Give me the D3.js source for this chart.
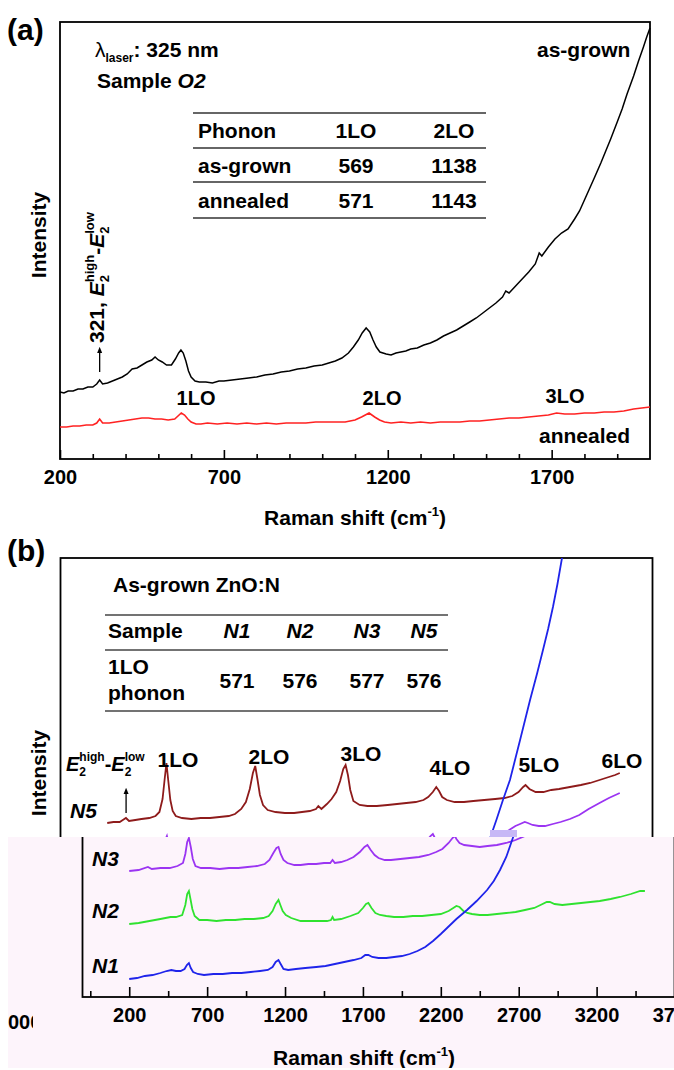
<!DOCTYPE html>
<html>
<head>
<meta charset="utf-8">
<script src="https://cdn.jsdelivr.net/npm/d3@7"></script>
<style>
  body { margin: 0; background: #fff; }
  svg { display: block; font-family: "Liberation Sans", Arial, Helvetica, sans-serif; font-weight: bold; }
</style>
</head>
<body>
<svg id="chart" width="674" height="1070"></svg>
<script>
// ---- panel (a): sample O2, 325 nm, [Raman shift cm-1, intensity a.u.]
const asGrown = [[200,67],[212,66],[225,68],[240,68],[255,70],[270,70],[285,72],[300,72],[312,75],[321,79],[330,75],[345,76],[360,78],[375,80],[390,82],[405,85],[420,90],[435,91],[450,94],[465,97],[480,99],[490,102],[500,99],[512,97],[525,94],[540,94],[552,100],[562,106],[569,109],[576,106],[584,98],[592,88],[600,82],[612,78],[625,77],[645,77],[665,76],[685,78],[700,78],[725,79],[750,80],[775,81],[800,82],[825,84],[850,85],[875,87],[900,88],[925,90],[950,91],[975,93],[1000,94],[1020,96],[1040,98],[1060,101],[1080,106],[1095,112],[1110,119],[1122,126],[1134,131],[1145,127],[1155,119],[1165,112],[1176,107],[1195,105],[1210,104],[1225,106],[1240,107],[1255,108],[1270,110],[1290,111],[1310,114],[1330,116],[1350,119],[1370,123],[1390,126],[1410,129],[1430,133],[1450,137],[1470,141],[1490,146],[1510,151],[1530,156],[1550,162],[1560,168],[1570,166],[1590,173],[1610,180],[1630,187],[1650,195],[1662,206],[1670,203],[1690,212],[1710,220],[1730,226],[1750,230],[1770,240],[1785,248],[1800,259],[1815,270],[1830,281],[1850,296],[1865,308],[1880,320],[1900,337],[1915,350],[1930,365],[1950,383],[1965,398],[1980,412],[1990,422],[2000,431]];
const annealed = [[200,32],[220,32],[240,33],[260,33],[280,34],[300,34],[312,36],[321,40],[330,36],[350,36],[370,37],[390,38],[410,39],[430,40],[450,41],[470,41],[490,40],[510,40],[530,39],[550,40],[560,43],[570,46],[580,44],[590,40],[600,37],[615,35],[630,35],[650,36],[680,35],[710,36],[740,35],[770,36],[800,35],[830,36],[860,35],[890,36],[920,36],[950,36],[980,37],[1010,37],[1040,37],[1070,37],[1100,39],[1120,42],[1143,46],[1160,42],[1175,39],[1190,37],[1210,36],[1240,37],[1270,36],[1300,37],[1330,36],[1360,37],[1390,37],[1420,37],[1450,38],[1480,38],[1510,39],[1540,40],[1570,41],[1600,41],[1630,42],[1660,43],[1690,44],[1715,46],[1740,45],[1770,45],[1800,46],[1830,46],[1860,47],[1890,47],[1920,48],[1950,50],[1975,51],[2000,52]];
const tableAHead = ['Phonon', '1LO', '2LO'];
const tableARows = [['as-grown', '569', '1138'], ['annealed', '571', '1143']];
const ticksAMajor = [200, 700, 1200, 1700];
const ticksAMinor = [300, 400, 500, 600, 800, 900, 1000, 1100, 1300, 1400, 1500, 1600, 1800, 1900];

// ---- panel (b): as-grown ZnO:N samples
const n5 = [[200,172],[240,173],[280,173],[300,175],[320,177],[340,174],[380,175],[420,176],[470,177],[510,179],[535,183],[555,196],[568,215],[580,232],[592,214],[605,195],[620,184],[640,179],[680,177],[740,176],[800,177],[860,177],[920,178],[980,179],[1020,181],[1060,186],[1090,193],[1115,206],[1135,222],[1150,229],[1165,215],[1180,200],[1200,190],[1230,185],[1280,183],[1340,182],[1400,182],[1450,183],[1500,184],[1540,186],[1555,189],[1575,186],[1610,191],[1640,196],[1670,203],[1695,214],[1715,226],[1730,230],[1745,220],[1760,205],[1780,194],[1820,190],[1870,189],[1930,189],[2000,190],[2060,191],[2120,192],[2180,193],[2230,195],[2260,198],[2290,203],[2312,208],[2330,204],[2350,198],[2380,195],[2430,193],[2490,193],[2550,194],[2620,195],[2690,196],[2750,197],[2800,199],[2840,203],[2870,208],[2885,210],[2910,206],[2950,203],[3000,203],[3050,205],[3100,206],[3170,208],[3240,210],[3300,212],[3360,215],[3420,218],[3460,220],[3490,222]];
const n3 = [[200,126],[260,127],[320,130],[345,128],[400,129],[460,129],[510,131],[545,134],[560,143],[572,155],[583,159],[595,150],[608,138],[625,131],[660,129],[720,129],[780,128],[840,129],[900,129],[960,130],[1020,131],[1070,133],[1100,137],[1125,144],[1145,149],[1158,150],[1172,143],[1190,137],[1215,134],[1260,132],[1300,132],[1350,133],[1400,133],[1450,134],[1490,134],[1505,137],[1520,134],[1560,135],[1600,137],[1640,140],[1680,145],[1710,150],[1729,152],[1750,147],[1775,142],[1800,139],[1840,137],[1880,137],[1940,138],[2000,139],[2060,140],[2120,142],[2170,145],[2210,148],[2250,154],[2275,159],[2290,161],[2300,158],[2320,154],[2350,152],[2400,151],[2450,150],[2500,151],[2560,152],[2620,154],[2680,157],[2740,161],[2790,166],[2820,169],[2850,171],[2880,173],[2900,172],[2930,170],[2970,169],[3010,169],[3060,171],[3110,173],[3170,176],[3230,180],[3290,186],[3360,192],[3420,197],[3490,202]];
const n2 = [[200,73],[260,74],[330,76],[400,78],[465,80],[500,80],[540,82],[560,92],[572,103],[583,106],[593,98],[605,88],[620,81],[650,77],[700,77],[760,76],[820,77],[880,77],[940,78],[1000,78],[1060,79],[1095,81],[1120,86],[1140,93],[1158,97],[1170,92],[1185,86],[1205,82],[1240,79],[1300,76],[1360,76],[1420,76],[1470,76],[1495,77],[1505,80],[1515,77],[1560,78],[1620,81],[1670,84],[1700,89],[1720,93],[1735,94],[1755,89],[1780,84],[1810,82],[1850,81],[1900,80],[1960,80],[2020,81],[2080,81],[2140,82],[2200,83],[2250,86],[2280,89],[2300,91],[2320,90],[2345,86],[2370,84],[2400,83],[2450,82],[2500,82],[2560,83],[2620,84],[2680,85],[2740,87],[2800,89],[2840,92],[2880,95],[2900,95],[2930,93],[2980,92],[3040,93],[3100,94],[3160,95],[3220,96],[3290,98],[3350,100],[3420,103],[3480,106],[3510,106]];
const n1 = [[200,18],[250,19],[300,21],[350,22],[400,24],[440,26],[470,27],[500,26],[530,26],[555,28],[570,32],[583,34],[595,29],[610,25],[640,23],[680,22],[740,23],[800,23],[860,24],[920,24],[980,25],[1040,26],[1090,27],[1120,30],[1140,35],[1158,37],[1172,33],[1190,28],[1220,27],[1270,28],[1330,29],[1400,30],[1460,31],[1520,33],[1580,35],[1640,37],[1690,39],[1715,42],[1735,42],[1760,40],[1800,39],[1850,39],[1900,40],[1950,41],[2000,43],[2050,46],[2100,50],[2150,56],[2200,63],[2240,69],[2300,78],[2368,87],[2430,96],[2497,107],[2540,116],[2580,127],[2620,140],[2660,158],[2700,176],[2740,195],[2785,215],[2850,255],[2914,295],[2960,322],[2997,345],[3030,366],[3061,388],[3090,411],[3119,437],[3130,447]];
const seriesB = [
  { name: 'N5', data: n5, color: '#8e1b1b' },
  { name: 'N3', data: n3, color: '#9b34f2' },
  { name: 'N2', data: n2, color: '#2fe22f' },
  { name: 'N1', data: n1, color: '#1f24ea' }
];
const tableBHead = ['Sample', 'N1', 'N2', 'N3', 'N5'];
const tableBValues = ['571', '576', '577', '576'];
const ticksBMajor = [200, 700, 1200, 1700, 2200, 2700, 3200, 3700];
const ticksBMinor = [-50, 450, 950, 1450, 1950, 2450, 2950, 3450];

const svg = d3.select('#chart');
const defs = svg.append('defs');
defs.append('marker').attr('id', 'arrow')
  .attr('viewBox', '0 0 10 10').attr('refX', 5).attr('refY', 5)
  .attr('markerWidth', 5).attr('markerHeight', 5).attr('orient', 'auto')
  .append('path').attr('d', 'M0,1L10,5L0,9Z').attr('fill', '#000');

function addTicks(g, scale, y, values, size, labels) {
  const axis = d3.axisBottom(scale).tickValues(values).tickSize(-size).tickPadding(11)
    .tickFormat(d => String(d));
  const a = g.append('g').attr('transform', `translate(0,${y})`).call(axis)
    .attr('font-family', null).attr('font-size', 20);
  a.select('.domain').remove();
  a.selectAll('line').attr('stroke', '#000').attr('stroke-width', 1.6);
  if (labels) a.selectAll('text').attr('fill', '#000');
  else a.selectAll('text').remove();
}

function frame(g, x, y) {
  g.append('rect')
    .attr('x', x.range()[0]).attr('y', y.range()[1])
    .attr('width', x.range()[1] - x.range()[0]).attr('height', y.range()[0] - y.range()[1])
    .attr('fill', 'none').attr('stroke', '#000').attr('stroke-width', 1.8);
}

function label(g, text, x, y, opts = {}) {
  return g.append('text').attr('x', x).attr('y', y)
    .attr('font-size', opts.size || 21)
    .attr('text-anchor', opts.anchor || 'start')
    .attr('font-style', opts.italic ? 'italic' : null)
    .text(text);
}

// E2(high) - E2(low) with stacked sub/superscripts
function e2Label(t, sub) {
  ['high', 'low'].forEach((sup, i) => {
    if (i) t.append('tspan').attr('dy', 10).text('-');
    t.append('tspan').attr('font-style', 'italic').text('E');
    t.append('tspan').attr('font-size', sub).attr('dy', 5).text('2');
    t.append('tspan').attr('font-size', sub).attr('dx', -sub * 0.556).attr('dy', -15).text(sup);
  });
}

function axisTitle(g, x, y) {
  const t = g.append('text').attr('x', x).attr('y', y).attr('font-size', 21).attr('text-anchor', 'middle');
  t.append('tspan').text('Raman shift (cm');
  t.append('tspan').attr('font-size', 13).attr('dy', -9).text('-1');
  t.append('tspan').attr('dy', 9).text(')');
}

// ================= panel (a)
const ax = d3.scaleLinear().domain([200, 2000]).range([60, 650]);
const ay = d3.scaleLinear().domain([0, 437]).range([459, 22]);
const lineA = d3.line().x(d => ax(d[0])).y(d => ay(d[1]));
const ga = svg.append('g');

addTicks(ga, ax, 459, ticksAMinor, 5, false);
addTicks(ga, ax, 459, ticksAMajor, 9, true);
frame(ga, ax, ay);

ga.append('path').datum(annealed).attr('d', lineA)
  .attr('fill', 'none').attr('stroke', '#ff2222').attr('stroke-width', 1.6);
ga.append('path').datum(asGrown).attr('d', lineA)
  .attr('fill', 'none').attr('stroke', '#000').attr('stroke-width', 1.5);

label(ga, '(a)', 7, 40, { size: 30 });
const lam = ga.append('text').attr('x', 95).attr('y', 57).attr('font-size', 21);
lam.append('tspan').attr('font-weight', 'normal').text('λ');
lam.append('tspan').attr('font-size', 12).attr('dy', 5).text('laser');
lam.append('tspan').attr('dy', -5).text(': 325 nm');
const smp = label(ga, 'Sample ', 97, 88);
smp.append('tspan').attr('font-style', 'italic').text('O2');

// table (a)
[113, 148, 182, 218].forEach(y => ga.append('line')
  .attr('x1', 193).attr('x2', 486).attr('y1', y).attr('y2', y)
  .attr('stroke', '#333').attr('stroke-width', 1.4));
const colA = [[198, 'start'], [356, 'middle'], [454, 'middle']];
[tableAHead, ...tableARows].forEach((row, r) => row.forEach((cell, c) =>
  label(ga, cell, colA[c][0], 138 + r * 35, { anchor: colA[c][1] })));

label(ga, 'as-grown', 537, 57);
label(ga, 'annealed', 539, 443);
label(ga, '1LO', 196, 405, { size: 20, anchor: 'middle' });
label(ga, '2LO', 382, 405, { size: 20, anchor: 'middle' });
label(ga, '3LO', 565, 403, { size: 20, anchor: 'middle' });

const ea = ga.append('text').attr('font-size', 21)
  .attr('transform', `translate(${ax(321) + 4},343) rotate(-90)`);
ea.append('tspan').text('321, ');
e2Label(ea, 13);
ga.append('line').attr('x1', ax(321)).attr('x2', ax(321)).attr('y1', 372).attr('y2', 350)
  .attr('stroke', '#000').attr('stroke-width', 1.3).attr('marker-end', 'url(#arrow)');

ga.append('text').attr('font-size', 21).attr('text-anchor', 'middle')
  .attr('transform', 'translate(46,235) rotate(-90)').text('Intensity');
axisTitle(ga, 355, 525);

// ================= panel (b)
const bx = d3.scaleLinear().domain([-100, 3700]).range([60.5, 652.5]);
const by = d3.scaleLinear().domain([0, 437]).range([995, 558]);
const lineB = d3.line().x(d => bx(d[0])).y(d => by(d[1]));

defs.append('clipPath').attr('id', 'plotB').append('rect')
  .attr('x', 60.5).attr('y', 558).attr('width', 592).attr('height', 437);
defs.append('clipPath').attr('id', 'upperB').append('rect')
  .attr('x', 0).attr('y', 500).attr('width', 674).attr('height', 337);
defs.append('clipPath').attr('id', 'lowerB').append('rect')
  .attr('x', 8).attr('y', 837).attr('width', 666).attr('height', 231);
defs.append('clipPath').attr('id', 'stray').append('rect')
  .attr('x', 8).attr('y', 1000).attr('width', 25).attr('height', 40);

// upper: the part of the panel above the seam; lower: the shifted copy below it
function drawPanelB(g, upper) {
  addTicks(g, bx, 995, ticksBMinor, 6, false);
  addTicks(g, bx, 995, ticksBMajor, 10, !upper);
  frame(g, bx, by);

  const curves = g.append('g').attr('clip-path', 'url(#plotB)');
  seriesB.forEach(s => curves.append('path').datum(s.data).attr('d', lineB)
    .attr('fill', 'none').attr('stroke', s.color).attr('stroke-width', 1.8));

  if (!upper) {
    [['N3', 864], ['N2', 916], ['N1', 971]]
      .forEach(([t, y]) => label(g, t, 70, y, { italic: true }));
    axisTitle(g, 342, 1063);
    return;
  }

  label(g, '(b)', 7, 561, { size: 30 });
  label(g, 'As-grown ZnO:N', 113, 592);
  [615, 650, 711].forEach(y => g.append('line')
    .attr('x1', 105).attr('x2', 448).attr('y1', y).attr('y2', y)
    .attr('stroke', '#444').attr('stroke-width', 1.4));
  const colB = [108, 237, 300, 367, 424];
  tableBHead.forEach((h, i) => label(g, h, colB[i], 638, { anchor: i ? 'middle' : 'start', italic: i > 0 }));
  label(g, '1LO', 108, 674);
  label(g, 'phonon', 108, 700);
  tableBValues.forEach((v, i) => label(g, v, colB[i + 1], 688, { anchor: 'middle' }));

  const eb = g.append('text').attr('x', 66).attr('y', 771).attr('font-size', 20);
  e2Label(eb, 12);
  g.append('line').attr('x1', bx(321)).attr('x2', bx(321)).attr('y1', 813).attr('y2', 791)
    .attr('stroke', '#000').attr('stroke-width', 1.3).attr('marker-end', 'url(#arrow)');

  [['1LO', 178, 767], ['2LO', 269, 764], ['3LO', 361, 761], ['4LO', 450, 775], ['5LO', 539, 772], ['6LO', 622, 768]]
    .forEach(([t, x, y]) => label(g, t, x, y, { anchor: 'middle' }));
  label(g, 'N5', 70, 818, { italic: true });

  g.append('text').attr('font-size', 21).attr('text-anchor', 'middle')
    .attr('transform', 'translate(46,773) rotate(-90)').text('Intensity');
}

drawPanelB(svg.append('g').attr('clip-path', 'url(#upperB)').append('g'), true);
const lower = svg.append('g').attr('clip-path', 'url(#lowerB)');
lower.append('rect').attr('x', 8).attr('y', 837).attr('width', 666).attr('height', 231).attr('fill', '#fdf4fb');
drawPanelB(lower.append('g').attr('transform', 'translate(22,2)'), false);
svg.append('g').attr('clip-path', 'url(#stray)')
  .append('text').attr('x', 8).attr('y', 1029).attr('font-size', 20).text('000');
svg.append('rect').attr('x', 490).attr('y', 830).attr('width', 27).attr('height', 7).attr('fill', '#c7b8f6');
</script>
</body>
</html>
